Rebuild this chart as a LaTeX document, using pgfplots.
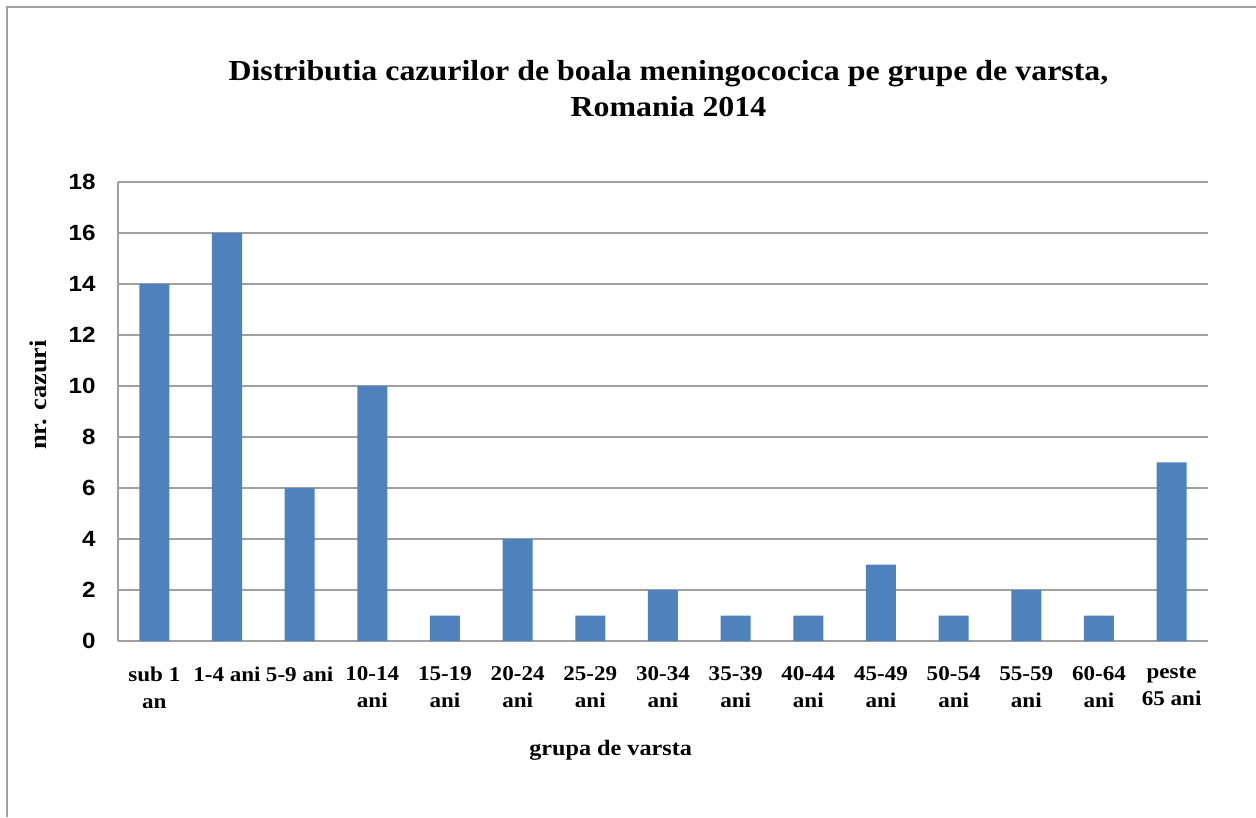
\documentclass[border=0pt]{standalone}
\usepackage{fontspec}
\setmainfont{Liberation Serif}[FakeStretch=1.1]
\newfontfamily\arial{Liberation Sans}[FakeStretch=1.1]
\usepackage{pgfplots}
\pgfplotsset{compat=1.18}
\definecolor{barblue}{HTML}{4F81BD}
\definecolor{gridgray}{HTML}{A0A0A0}
\begin{document}
\begin{tikzpicture}[x=1pt,y=1pt]
\path[use as bounding box] (0,0) rectangle (1256,817);
\draw[gridgray, line width=1.5pt] (7,0) -- (7,810) -- (1256,810);
\begin{axis}[
  at={(118pt,176pt)}, anchor=south west,
  scale only axis, width=1090pt, height=459pt,
  xmin=-0.5, xmax=14.5, ymin=0, ymax=18,
  ytick={0,2,...,18},
  xtick={0,...,14},
  xticklabels={sub 1\\an, 1-4 ani, 5-9 ani, 10-14\\ani, 15-19\\ani, 20-24\\ani, 25-29\\ani, 30-34\\ani, 35-39\\ani, 40-44\\ani, 45-49\\ani, 50-54\\ani, 55-59\\ani, 60-64\\ani, peste\\65 ani},
  xticklabel style={align=center, font=\bfseries\fontsize{21}{27}\selectfont, anchor=north, yshift=-22pt},
  yticklabel style={font=\arial\bfseries\fontsize{22}{22}\selectfont, anchor=east, xshift=-19pt},
  /pgf/number format/assume math mode=true,
  major tick length=0pt,
  axis x line*=bottom, axis y line*=left,
  axis line style={gridgray, line width=1.2pt},
  ymajorgrids, grid style={gridgray, line width=1.2pt},
  ybar, bar width=30pt,
  title={Distributia cazurilor de boala meningococica pe grupe de varsta,\\Romania 2014},
  title style={align=center, font=\bfseries\fontsize{29}{36}\selectfont, at={(axis description cs:0.505,1)}, anchor=south, yshift=56pt},
  xlabel={grupa de varsta},
  xlabel style={at={(axis description cs:0.452,0)}, anchor=base, yshift=-114pt, font=\bfseries\fontsize{22}{22}\selectfont},
  ylabel={nr. cazuri},
  ylabel style={at={(axis description cs:-0.0734,0.536)}, anchor=center, font=\bfseries\fontsize{24}{24}\selectfont},
]
\addplot[fill=barblue, draw=none] coordinates {
(0,14) (1,16) (2,6) (3,10) (4,1) (5,4) (6,1) (7,2) (8,1) (9,1) (10,3) (11,1) (12,2) (13,1) (14,7)};
\end{axis}
\end{tikzpicture}
\end{document}
